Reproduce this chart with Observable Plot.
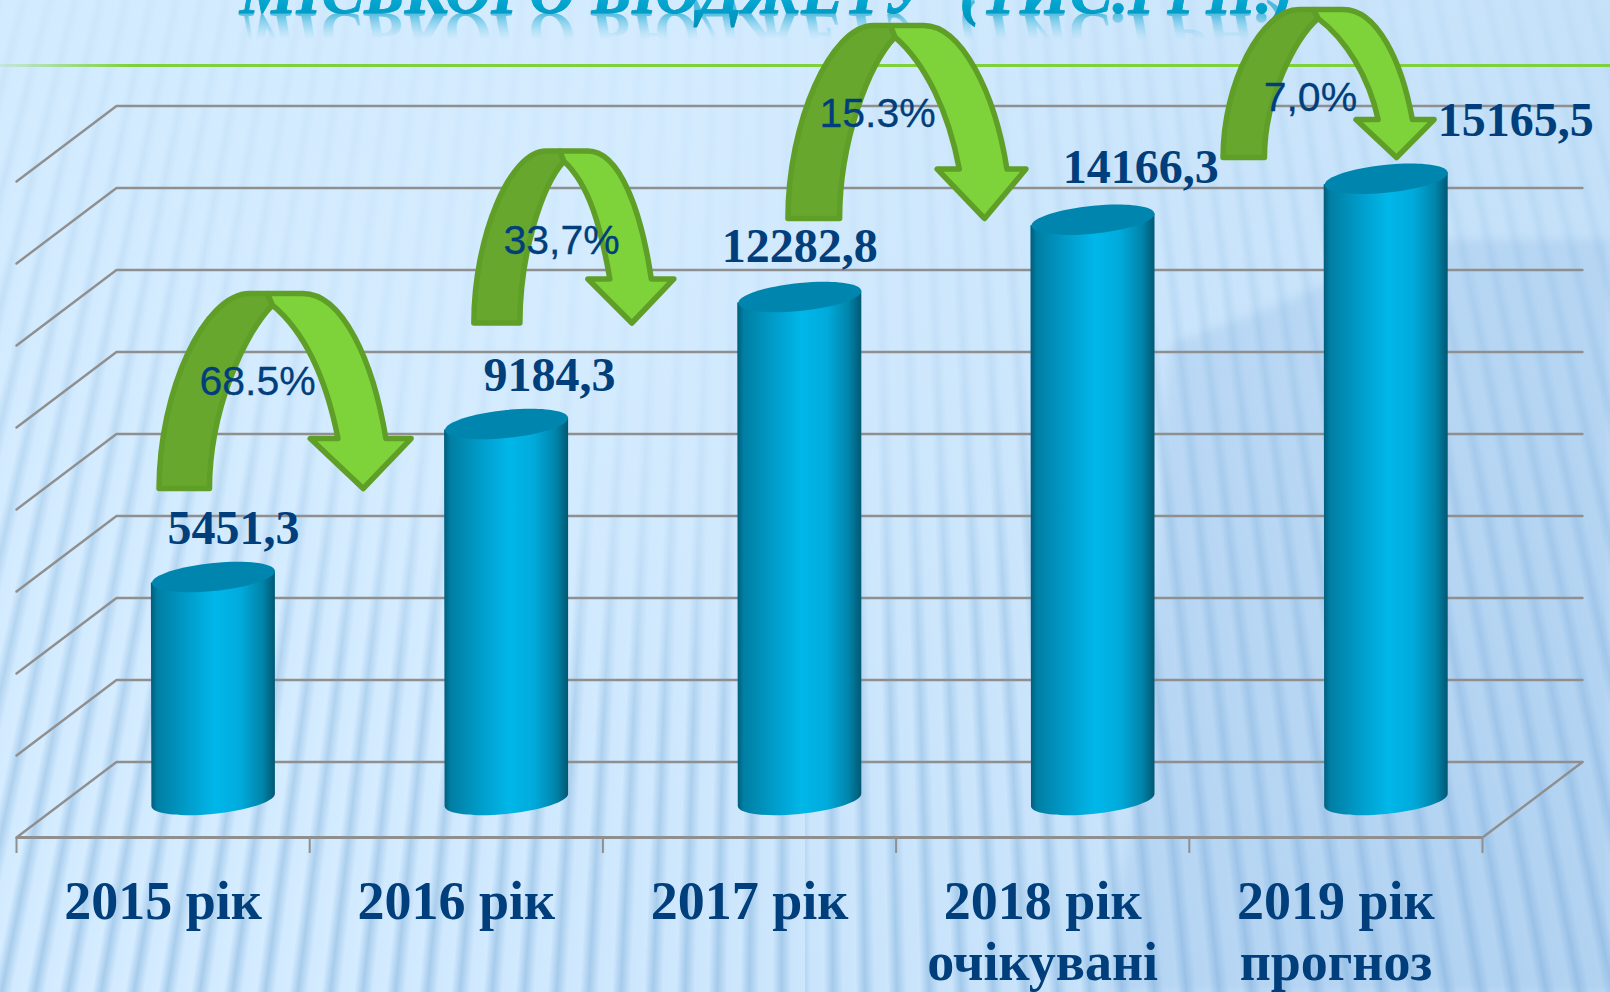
<!DOCTYPE html>
<html lang="uk">
<head>
<meta charset="utf-8">
<script src="https://cdn.jsdelivr.net/npm/d3@7"></script>
<script src="https://cdn.jsdelivr.net/npm/@observablehq/plot@0.6"></script>
<style>
  html, body { margin: 0; padding: 0; width: 1610px; height: 992px; overflow: hidden; background: #d3ebfe; }
  #stage { position: relative; width: 1610px; height: 992px; overflow: hidden; }
  .bg { position: absolute; inset: 0; }
  #stripes { background: repeating-conic-gradient(from 180deg at 805px -3000px,
      #d6edff 0deg, #d2eaff .2deg, #a4caea .34deg, #d2eaff .46deg); }
  #fade { background:
      radial-gradient(ellipse 520px 420px at 620px 300px, rgba(213,236,255,.75) 0%, rgba(213,236,255,.5) 55%, rgba(213,236,255,0) 100%),
      linear-gradient(180deg, rgba(211,235,254,.88) 0%, rgba(211,235,254,.7) 25%, rgba(211,235,254,.38) 55%, rgba(205,230,252,.08) 100%); }
  #shadeWrap { filter: blur(5px); }
  #shade { position: absolute; inset: 0; background: rgba(125,172,220,.2);
      clip-path: polygon(1170px 345px, 1290px 300px, 1420px 240px, 1640px 240px, 1640px 1030px, 1100px 1030px, 1150px 700px); }
  #tint { background: linear-gradient(115deg, rgba(160,200,235,0) 35%, rgba(140,185,228,.30) 100%); }
  #rule { position: absolute; left: 0; top: 63.5px; width: 1610px; height: 3px;
      background: linear-gradient(90deg, rgba(126,209,59,.15) 0, #7ed13b 130px); }
  svg.plot-root { position: absolute; left: 0; top: 0; }
</style>
</head>
<body>
<div id="stage">
  <div class="bg" id="stripes"></div>
  <div class="bg" id="fade"></div>
  <div class="bg" id="tint"></div>
  <div class="bg" id="shadeWrap"><div id="shade"></div></div>
  <div id="rule"></div>
</div>
<script>
// ---- data ----
const years = ["2015 рік", "2016 рік", "2017 рік", "2018 рік\nочікувані", "2019 рік\nпрогноз"];
const values = [5451.3, 9184.3, 12282.8, 14166.3, 15165.5];
const valueLabels = ["5451,3", "9184,3", "12282,8", "14166,3", "15165,5"];
const gridValues = [0, 2000, 4000, 6000, 8000, 10000, 12000, 14000, 16000];
const tickPositions = [0, 1, 2, 3, 4, 5];
const growthLabels = ["68.5%", "33,7%", "15.3%", "7,0%"];
const titleText = "МІСЬКОГО БЮДЖЕТУ  (ТИС.ГРН.)";

// label and annotation anchors, in the chart's own units (category position, thousand-UAH height)
const valueLabelX = [0.74, 1.818, 2.671, 3.834, 5.113];
const valueLabelY = [6244, 9976, 13146, 15049, 16195];
const growthX = [0.822, 1.859, 2.937, 4.413];
const growthY = [9878, 13317, 16415, 16805];
const arrowX = [0.916, 1.901, 3.037, 4.475];
const arrowY = [9988, 13744, 16549, 17488];
const arrowW = [252, 200, 238, 211];
const arrowH = [195, 172, 193, 148];
// arrow outlines, as shares of each arrow's width
const arrowBandIn = [0.2, 0.23, 0.217, 0.196];
const arrowHeadLeft = [0.6, 0.57, 0.627, 0.63];
const arrowShoulderIn = [0.71, 0.68, 0.72, 0.735];
const arrowShoulderOut = [0.9, 0.887, 0.92, 0.897];
const arrowTip = [0.81, 0.79, 0.826, 0.822];

// pseudo-3D projection of the chart box
const barFrom = 0.46, barTo = 0.883, barMid = (barFrom + barTo) / 2;
const depthX = 0.341;                 // how far back the wall sits, in category widths
const wallLift = 939;                 // wall zero lies this far below the bars' zero
const floorDrop = -902;               // front edge of the floor
const tickLen = 390;
const INK = "#003f7b", GRID = "#8f8f8f";

const rows = years.map((label, i) => ({i, label, value: values[i]}));

// tilted ellipse used for the cylinder's ends
const A = 61.5, B = 14, S = 6, K = 0.5523;
const pt = (u, v) => [A * u, B * v - S * u];
function ellipsePath(c, ox = 0, oy = 0) {
  const seg = (a, b, d) => {
    const p = [pt(...a), pt(...b), pt(...d)];
    c.bezierCurveTo(ox + p[0][0], oy + p[0][1], ox + p[1][0], oy + p[1][1], ox + p[2][0], oy + p[2][1]);
  };
  const st = pt(-1, 0);
  c.moveTo(ox + st[0], oy + st[1]);
  seg([-1, -K], [-K, -1], [0, -1]);
  seg([K, -1], [1, -K], [1, 0]);
  seg([1, K], [K, 1], [0, 1]);
  seg([-K, 1], [-1, K], [-1, 0]);
  c.closePath();
}
const topEllipse = {draw(c) { ellipsePath(c); }};

// the bent arrows: a dark rising half and a bright falling half with its head
const arrowSymbol = (i, part) => ({
  draw(c) {
    const w = arrowW[i], h = arrowH[i];
    const P = (u, v) => [(u - .5) * w, (v - .5) * h];
    const M = (u, v) => c.moveTo(...P(u, v));
    const L = (u, v) => c.lineTo(...P(u, v));
    const C = (a, b, d, e, f, g) => c.bezierCurveTo(...P(a, b), ...P(d, e), ...P(f, g));
    const bi = arrowBandIn[i], si = arrowShoulderIn[i], so = arrowShoulderOut[i];
    if (part === "rise") {
      M(0, 1); C(0, .5, .18, 0, .36, 0); L(.43, 0); L(.45, .06);
      C(.34, .2, bi, .6, bi, 1);
    } else {
      M(.43, 0); L(.57, 0); C(.73, 0, so - .05, .35, so, .744); L(1, .744); L(arrowTip[i], 1); L(arrowHeadLeft[i], .744); L(si, .744);
      C(si - .045, .45, .58, .2, .45, .06);
    }
    c.closePath();
  }
});

// SVG gradients
function gradients() {
  const g = d3.create("svg:g");
  const defs = g.append("defs");
  const lin = (id, attrs, stops) => {
    const l = defs.append("linearGradient").attr("id", id);
    Object.entries(attrs).forEach(([k, v]) => l.attr(k, v));
    stops.forEach(([o, c, a]) => l.append("stop").attr("offset", o).attr("stop-color", c).attr("stop-opacity", a ?? 1));
  };
  lin("cyl", {x1: 0, x2: 1, y1: 0, y2: 0}, [
    [0, "#005c7b"], [.05, "#007ea3"], [.3, "#009dcb"], [.52, "#00b7e9"], [.72, "#00abdc"], [.9, "#0084aa"], [1, "#005873"]
  ]);
  lin("titleFill", {x1: 0, x2: 0, y1: 0, y2: 1}, [[0, "#55cdea"], [.45, "#14b0da"], [.7, "#00a2cc"], [1, "#008fb8"]]);
  lin("titleMirror", {gradientUnits: "userSpaceOnUse", x1: 0, x2: 0, y1: 0, y2: -27}, [
    [0, "#1fa9d2", .72], [.55, "#6cc8e6", .42], [1, "#8fd6ef", 0]
  ]);
  return g.node();
}

// turns a library-drawn rect into a cylinder body with a curved lower end
function cylinderRender(index, scales, vals, dims, ctx, next) {
  const g = next(index, scales, vals, dims, ctx);
  d3.select(g).selectAll("rect").each(function () {
    const r = d3.select(this);
    const x = +r.attr("x"), y = +r.attr("y"), w = +r.attr("width"), h = +r.attr("height");
    const cx = x + w / 2, base = y + h;
    const p = d3.path();
    p.moveTo(x, y + S);
    p.lineTo(x + w, y - S);
    p.lineTo(x + w, base - S);
    const q = (a, b, d) => {
      const t = [pt(...a), pt(...b), pt(...d)];
      p.bezierCurveTo(cx + t[0][0], base + t[0][1], cx + t[1][0], base + t[1][1], cx + t[2][0], base + t[2][1]);
    };
    q([1, K], [K, 1], [0, 1]);
    q([-K, 1], [-1, K], [-1, 0]);
    p.closePath();
    d3.select(this.parentNode).insert("path", () => this).attr("d", p.toString()).attr("fill", "url(#cyl)");
    r.remove();
  });
  return g;
}

// mirrors the title below its baseline as a fading reflection
function mirrorRender(index, scales, vals, dims, ctx, next) {
  const g = next(index, scales, vals, dims, ctx);
  const base = vals.y[index[0]];
  d3.select(g).attr("transform", `translate(0 ${2 * base}) scale(1 -1)`).attr("aria-hidden", "true");
  return g;
}

const titleX = 2.558, titleY = 19195;
const gridLines = gridValues.flatMap(v => [
  {v, x: 0, y: v + floorDrop},
  {v, x: depthX, y: v + wallLift},
  {v, x: 5 + depthX, y: v + wallLift}
]);
const floorSide = [{x: 5, y: floorDrop}, {x: 5 + depthX, y: wallLift}];

const titleOpts = {
  x: () => titleX, y: () => titleY, text: d => d, lineAnchor: "bottom",
  fontFamily: "Liberation Serif", fontWeight: "bold", fontStyle: "italic", fontSize: 64
};

const chart = Plot.plot({
  width: 1610, height: 992, margin: 0,
  className: "plot-root",
  style: {background: "transparent", overflow: "hidden", maxWidth: "none"},
  x: {type: "linear", domain: [0, 5], range: [16, 1482], axis: null},
  y: {type: "linear", domain: [0, 19512], range: [800, 0], axis: null},
  marks: [
    gradients,
    Plot.text([titleText], {...titleOpts, fill: "url(#titleMirror)", render: mirrorRender}),
    Plot.text([titleText], {...titleOpts, fill: "url(#titleFill)", stroke: "#0097bf", strokeWidth: .8}),
    Plot.line(gridLines, {x: "x", y: "y", z: "v", stroke: GRID, strokeWidth: 2.4}),
    Plot.line(floorSide, {x: "x", y: "y", stroke: GRID, strokeWidth: 2.4}),
    Plot.ruleY([floorDrop], {x1: 0, x2: 5, stroke: GRID, strokeWidth: 3}),
    Plot.ruleX(tickPositions, {y1: floorDrop, y2: floorDrop - tickLen, stroke: GRID, strokeWidth: 2}),
    Plot.rectY(rows, {x1: d => d.i + barFrom, x2: d => d.i + barTo, y1: 0, y2: "value", fill: "#009cca", render: cylinderRender}),
    Plot.dot(rows, {x: d => d.i + barMid, y: "value", symbol: topEllipse, fill: "#0086ae", stroke: "none"}),
    ...arrowX.flatMap((x, i) => ["rise", "fall"].map(part =>
      Plot.dot([{x, y: arrowY[i]}], {
        x: "x", y: "y", symbol: arrowSymbol(i, part),
        fill: part === "rise" ? "#68a72e" : "#7fd33a",
        stroke: "#5f9f28", strokeWidth: 5.5, strokeLinejoin: "round"
      })
    )),
    Plot.text(rows, {
      x: d => d.i + .5, y: () => -1827, text: "label", lineAnchor: "top", lineHeight: 1.13,
      fill: INK, fontFamily: "Liberation Serif", fontWeight: "bold", fontSize: 54
    }),
    Plot.text(valueLabels, {
      x: (d, i) => valueLabelX[i], y: (d, i) => valueLabelY[i], text: d => d, lineAnchor: "bottom",
      fill: INK, fontFamily: "Liberation Serif", fontWeight: "bold", fontSize: 48
    }),
    Plot.text(growthLabels, {
      x: (d, i) => growthX[i], y: (d, i) => growthY[i], text: d => d, lineAnchor: "bottom",
      fill: INK, stroke: INK, strokeWidth: .3, fontFamily: "Liberation Sans", fontSize: 41
    })
  ]
});
document.getElementById("stage").appendChild(chart);
</script>
</body>
</html>
